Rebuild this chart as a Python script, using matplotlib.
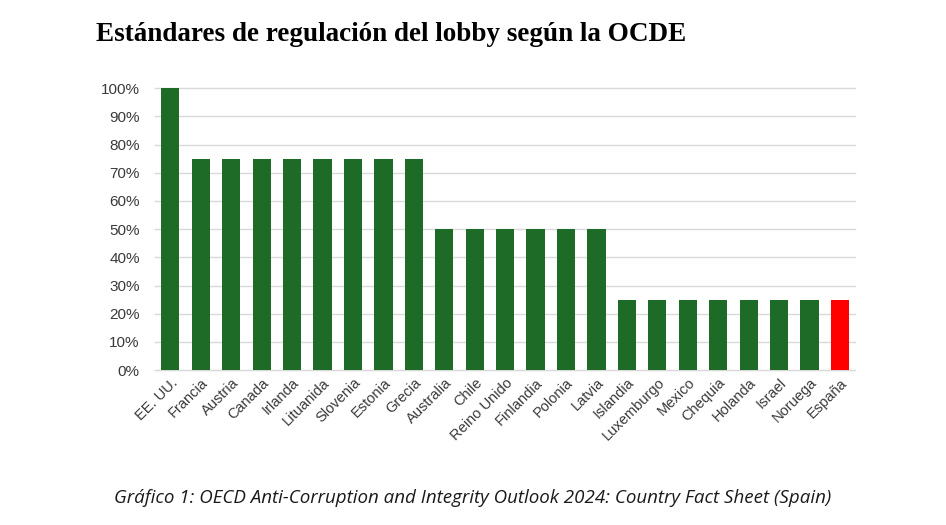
import numpy as np
import matplotlib.pyplot as plt
from matplotlib.ticker import PercentFormatter

paises = ['EE. UU.', 'Francia', 'Austria', 'Canada', 'Irlanda', 'Lituanida',
          'Slovenia', 'Estonia', 'Grecia', 'Australia', 'Chile', 'Reino Unido',
          'Finlandia', 'Polonia', 'Latvia', 'Islandia', 'Luxemburgo', 'Mexico',
          'Chequia', 'Holanda', 'Israel', 'Noruega', 'España']
valores = [1.00, 0.75, 0.75, 0.75, 0.75, 0.75, 0.75, 0.75, 0.75,
           0.50, 0.50, 0.50, 0.50, 0.50, 0.50,
           0.25, 0.25, 0.25, 0.25, 0.25, 0.25, 0.25, 0.25]

colores = ['#1e6b27'] * (len(paises) - 1) + ['#ff0000']

fig = plt.figure(figsize=(9.46, 5.25), dpi=100)
ax = fig.add_axes([0.164, 0.295, 0.740, 0.537])

x = np.arange(len(paises))
ax.bar(x, valores, width=0.6, color=colores, zorder=3)

ax.set_xlim(-0.5, len(paises) - 0.5)
ax.set_ylim(0, 1.0)
ax.set_yticks(np.arange(0, 1.01, 0.1))
ax.yaxis.set_major_formatter(PercentFormatter(1.0, decimals=0))
ax.grid(axis='y', color='#d9d9d9', linewidth=1, zorder=0, clip_on=False)
for s in ['top', 'right', 'left']:
    ax.spines[s].set_visible(False)
ax.spines['bottom'].set_color('#d9d9d9')
ax.tick_params(axis='both', length=0, labelcolor='#3a3a3a')
ax.tick_params(axis='y', pad=11, labelsize=11)
ax.tick_params(axis='x', pad=4, labelsize=10.5)
ax.set_xticks(x)
ax.set_xticklabels(paises, rotation=45, ha='right', rotation_mode='anchor',
                   fontfamily='Liberation Sans')
for t in ax.get_yticklabels():
    t.set_fontfamily('Liberation Sans')

fig.text(0.102, 0.935, 'Estándares de regulación del lobby según la OCDE',
         fontfamily='Liberation Serif', fontweight='bold', fontsize=19.5,
         ha='left', va='center', color='black')

fig.text(0.5, 0.052, 'Gráfico 1: OECD Anti-Corruption and Integrity Outlook 2024: Country Fact Sheet (Spain)',
         fontfamily='Open Sans', style='italic', fontsize=13.5, ha='center',
         va='center', color='#1a1a1a')

fig.savefig('out.png', dpi=100)
